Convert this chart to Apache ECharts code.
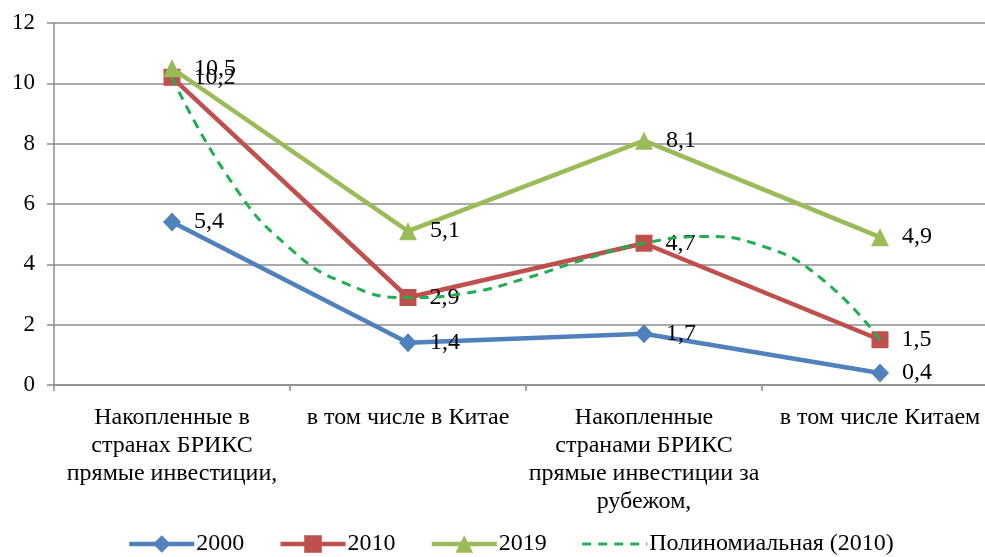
<!DOCTYPE html>
<html><head><meta charset="utf-8">
<script src="https://cdn.jsdelivr.net/npm/echarts@6/dist/echarts.min.js"></script>
<style>html,body{margin:0;padding:0;background:#fff;overflow:hidden}#c{width:1000px;height:557px}</style>
</head><body><div id="c"></div>
<script>
const categories = [
  "Накопленные в\nстранах БРИКС\nпрямые инвестиции,",
  "в том числе в Китае",
  "Накопленные\nстранами БРИКС\nпрямые инвестиции за\nрубежом,",
  "в том числе Китаем"
];
const s2000 = [5.4, 1.4, 1.7, 0.4];
const s2010 = [10.2, 2.9, 4.7, 1.5];
const s2019 = [10.5, 5.1, 8.1, 4.9];
// dashed trend curve (2010): [category position, value]
const trendX = [1, 1.25, 1.5, 1.75, 2, 2.25, 2.5, 2.75, 3, 3.25, 3.5, 3.75, 4];
const trendY = [10.2, 6.75, 4.53, 3.32, 2.9, 3.05, 3.54, 4.17, 4.7, 4.92, 4.61, 3.54, 1.5];
const yTicks = {min: 0, max: 12, interval: 2};

const FONT = "'Liberation Serif', 'Times New Roman', serif";
const grey = "#8c8c8c";
const lbl = {show: true, position: "right", distance: 13, color: "#000", fontFamily: FONT, fontSize: 24,
  formatter: p => String(p.value).replace(".", ",")};

const chart = echarts.init(document.getElementById("c"));
chart.setOption({
  animation: false,
  textStyle: {fontFamily: FONT},
  grid: {left: 54, right: 2, top: 23, bottom: 172, containLabel: false},
  legend: {
    left: 122, top: 527, itemWidth: 65, itemHeight: 22, itemGap: 34,
    textStyle: {fontFamily: FONT, fontSize: 24, color: "#000", padding: [0,0,0,-3]},
    data: [
      {name: "2000", lineStyle: {width: 4.5}},
      {name: "2010", lineStyle: {width: 4.5}},
      {name: "2019", lineStyle: {width: 4.5}},
      {name: "Полиномиальная (2010)", itemStyle: {opacity: 0}, lineStyle: {width: 3, type: [9, 7]}}
    ]
  },
  xAxis: [{
    type: "category", data: categories, boundaryGap: true,
    axisLine: {lineStyle: {color: grey, width: 1.5}},
    axisTick: {show: true, length: 6, lineStyle: {color: grey, width: 1.5}},
    axisLabel: {color: "#000", fontFamily: FONT, fontSize: 24, lineHeight: 28, margin: 19, interval: 0, align: "center"}
  }, {
    type: "value", min: 0.5, max: 4.5, show: false
  }],
  yAxis: {
    type: "value", min: yTicks.min, max: yTicks.max, interval: yTicks.interval,
    axisLine: {show: true, lineStyle: {color: grey, width: 1.5}},
    axisTick: {show: true, length: 7, lineStyle: {color: grey, width: 1.5}},
    splitLine: {lineStyle: {color: grey, width: 1.5}},
    axisLabel: {color: "#000", fontFamily: FONT, fontSize: 23, margin: 19}
  },
  series: [
    {name: "2000", type: "line", data: s2000, symbol: "diamond", symbolSize: [18, 19],
      color: "#4F81BD", lineStyle: {width: 4.5, color: "#4F81BD"}, label: lbl, z: 3},
    {name: "2010", type: "line", data: s2010, symbol: "rect", symbolSize: 17,
      color: "#C0504D", lineStyle: {width: 4.5, color: "#C0504D"}, label: lbl, z: 3},
    {name: "2019", type: "line", data: s2019, symbol: "triangle", symbolSize: 18,
      color: "#9BBB59", lineStyle: {width: 4.5, color: "#9BBB59"}, label: lbl, z: 4},
    {name: "Полиномиальная (2010)", type: "line", xAxisIndex: 1,
      data: trendX.map((x, i) => [x, trendY[i]]), smooth: true, symbol: "none",
      color: "#1fae50", lineStyle: {width: 3, type: [9, 7], color: "#1fae50"}, z: 5}
  ]
});
</script></body></html>
